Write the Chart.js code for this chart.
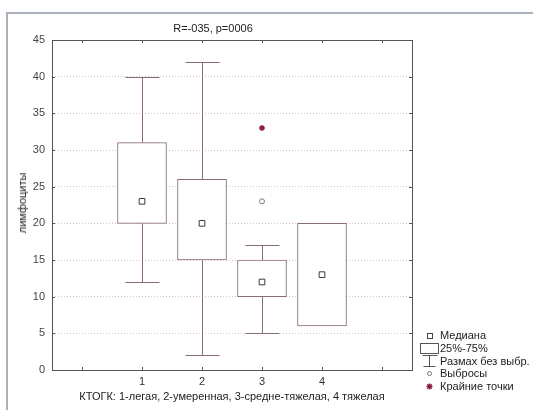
<!DOCTYPE html>
<html>
<head>
<meta charset="utf-8">
<script src="https://cdn.jsdelivr.net/npm/chart.js@4/dist/chart.umd.min.js"></script>
<style>
  html, body { margin: 0; padding: 0; background: #fff; }
  #wrap { position: relative; width: 533px; height: 410px; overflow: hidden;
          font-family: "Liberation Sans", Arial, sans-serif; color: #222; }
  #frame { position: absolute; left: 6px; top: 12px; right: -4px; bottom: -4px;
           border-top: 2px solid #a9b1bb; border-left: 2px solid #a9b1bb; }
  canvas { position: absolute; left: 0; top: 0; }
  .txt { position: absolute; font-size: 11px; white-space: nowrap; color: #222; }
  #title { left: 213px; top: 22px; transform: translateX(-50%); }
  #xtitle { left: 232px; top: 390px; transform: translateX(-50%); }
  #ytitle { left: 22px; top: 203px; transform: translate(-50%, -50%) rotate(-90deg); }
  .leg { position: absolute; left: 415px; font-size: 11px; color: #222; white-space: nowrap; }
  .leg svg { position: absolute; left: 0; top: 0; }
  .leg span { position: absolute; left: 25px; top: 0; line-height: 13px; }
</style>
</head>
<body>
<div id="wrap">
  <div id="frame"></div>
  <canvas id="c" width="533" height="410"></canvas>
  <div class="txt" id="title">R=-035, p=0006</div>
  <div class="txt" id="xtitle">КТОГК: 1-легая, 2-умеренная, 3-средне-тяжелая, 4 тяжелая</div>
  <div class="txt" id="ytitle">лимфоциты</div>

  <div class="leg" style="top:329px">
    <svg width="22" height="13"><rect x="12.5" y="4.5" width="5" height="5" fill="#fff" stroke="#444"/></svg>
    <span>Медиана</span>
  </div>
  <div class="leg" style="top:342px">
    <svg width="24" height="13"><rect x="5.5" y="1.5" width="18" height="10" fill="#fff" stroke="#555"/></svg>
    <span>25%-75%</span>
  </div>
  <div class="leg" style="top:355px">
    <svg width="24" height="14"><path d="M7.5 0.5 H22.5 M14.5 0.5 V11.5 M8.5 11.5 H20.5" fill="none" stroke="#555"/></svg>
    <span>Размах без выбр.</span>
  </div>
  <div class="leg" style="top:367px">
    <svg width="22" height="13"><circle cx="14.5" cy="6.5" r="2" fill="#fff" stroke="#777"/></svg>
    <span>Выбросы</span>
  </div>
  <div class="leg" style="top:380px">
    <svg width="22" height="13"><path d="M14.5 3.5 V9.5 M11.5 6.5 H17.5 M12.3 4.3 L16.7 8.7 M16.7 4.3 L12.3 8.7" fill="none" stroke="#8b1a3a" stroke-width="1.3"/></svg>
    <span>Крайние точки</span>
  </div>
</div>

<script>
// Groups along the x axis (КТОГК severity)
const groups = [1, 2, 3, 4];
// Box edges (25% and 75%) and medians for each group
const q1Values = [20, 15, 10, 6];
const q3Values = [31, 26, 15, 20];
const medianValues = [23, 20, 12, 13];
// Non-outlier range (whisker ends)
const whiskerLow = [12, 2, 5, 6];
const whiskerHigh = [40, 42, 17, 20];
// Outliers and extreme points: [group, value]
const outlierPoints = [[3, 23]];
const extremePoints = [[3, 33]];
// Tick labels for the x axis positions 0..5
const xTickLabels = ['', '1', '2', '3', '4', ''];
const yMin = 0, yMax = 45, yStep = 5;

const boxColor = '#8a6c6c';

// Whiskers: vertical line from box edge to cap, horizontal cap
const whiskerPlugin = {
  id: 'whiskers',
  beforeDatasetsDraw(chart) {
    const { ctx, scales: { x, y } } = chart;
    ctx.save();
    ctx.strokeStyle = boxColor;
    ctx.lineWidth = 1;
    groups.forEach((g, i) => {
      const px = Math.round(x.getPixelForValue(g)) + 0.5;
      const half = 17;
      const lo = Math.round(y.getPixelForValue(whiskerLow[i])) + 0.5;
      const hi = Math.round(y.getPixelForValue(whiskerHigh[i])) + 0.5;
      const b1 = y.getPixelForValue(q1Values[i]);
      const b3 = y.getPixelForValue(q3Values[i]);
      ctx.beginPath();
      if (whiskerHigh[i] > q3Values[i]) {
        ctx.moveTo(px, hi); ctx.lineTo(px, b3);
        ctx.moveTo(px - half, hi); ctx.lineTo(px + half, hi);
      }
      if (whiskerLow[i] < q1Values[i]) {
        ctx.moveTo(px, lo); ctx.lineTo(px, b1);
        ctx.moveTo(px - half, lo); ctx.lineTo(px + half, lo);
      }
      ctx.stroke();
    });
    ctx.restore();
  }
};

// Plot frame and small inward tick marks
const framePlugin = {
  id: 'frame',
  afterDraw(chart) {
    const { ctx, chartArea: a, scales: { x, y } } = chart;
    ctx.save();
    ctx.strokeStyle = '#555';
    ctx.lineWidth = 1;
    ctx.strokeRect(Math.round(a.left) + 0.5, Math.round(a.top) + 0.5,
                   Math.round(a.right - a.left), Math.round(a.bottom - a.top));
    ctx.beginPath();
    x.ticks.forEach(t => {
      const px = Math.round(x.getPixelForValue(t.value)) + 0.5;
      ctx.moveTo(px, a.bottom); ctx.lineTo(px, a.bottom - 3);
      ctx.moveTo(px, a.top); ctx.lineTo(px, a.top + 3);
    });
    y.ticks.forEach(t => {
      const py = Math.round(y.getPixelForValue(t.value)) + 0.5;
      ctx.moveTo(a.left, py); ctx.lineTo(a.left + 3, py);
      ctx.moveTo(a.right, py); ctx.lineTo(a.right - 3, py);
    });
    ctx.stroke();
    ctx.restore();
  }
};

new Chart(document.getElementById('c'), {
  type: 'bar',
  data: {
    datasets: [
      {
        type: 'scatter',
        label: 'Медиана',
        data: groups.map((g, i) => ({ x: g, y: medianValues[i] })),
        pointStyle: 'rect',
        pointRadius: 4,
        pointBorderWidth: 1,
        pointBorderColor: '#3a3a3a',
        pointBackgroundColor: '#fff',
        order: 0
      },
      {
        type: 'scatter',
        label: 'Выбросы',
        data: outlierPoints.map(p => ({ x: p[0], y: p[1] })),
        pointStyle: 'circle',
        pointRadius: 2.5,
        pointBorderWidth: 1,
        pointBorderColor: '#7a7a7a',
        pointBackgroundColor: '#fff',
        order: 0
      },
      {
        type: 'scatter',
        label: 'Крайние точки',
        data: extremePoints.map(p => ({ x: p[0], y: p[1] })),
        pointStyle: 'star',
        pointRadius: 3,
        pointBorderWidth: 1.3,
        pointBorderColor: '#8b1a3a',
        pointBackgroundColor: '#8b1a3a',
        order: 0
      },
      {
        type: 'bar',
        label: '25%-75%',
        data: groups.map((g, i) => ({ x: g, y: [q1Values[i], q3Values[i]] })),
        backgroundColor: '#fff',
        borderColor: boxColor,
        borderWidth: 1,
        borderSkipped: false,
        barThickness: 49,
        order: 1
      }
    ]
  },
  options: {
    responsive: false,
    animation: false,
    events: [],
    layout: { padding: { top: 40, left: 0, right: 121, bottom: 0 } },
    plugins: { legend: { display: false }, tooltip: { enabled: false }, title: { display: false } },
    scales: {
      x: {
        type: 'linear',
        min: -0.5,
        max: 5.5,
        offset: false,
        afterBuildTicks(scale) {
          scale.ticks = xTickLabels.map((_, i) => ({ value: i }));
        },
        ticks: {
          callback: (v) => xTickLabels[v] ?? '',
          color: '#333',
          font: { family: 'Liberation Sans', size: 11 },
          padding: 5,
          maxRotation: 0
        },
        grid: { display: false, drawTicks: false },
        border: { display: false },
        afterFit(scale) { scale.height = 40; }
      },
      y: {
        min: yMin,
        max: yMax,
        ticks: {
          stepSize: yStep,
          color: '#444',
          font: { family: 'Liberation Sans', size: 11 },
          padding: 7
        },
        grid: {
          color: (c) => (c.tick.value > yMin && c.tick.value < yMax) ? '#c8c8c8' : 'rgba(0,0,0,0)',
          drawTicks: false,
          lineWidth: 1
        },
        border: { display: false, dash: [1, 2] },
        afterFit(scale) { scale.width = 52; }
      }
    }
  },
  plugins: [whiskerPlugin, framePlugin]
});
</script>
</body>
</html>
